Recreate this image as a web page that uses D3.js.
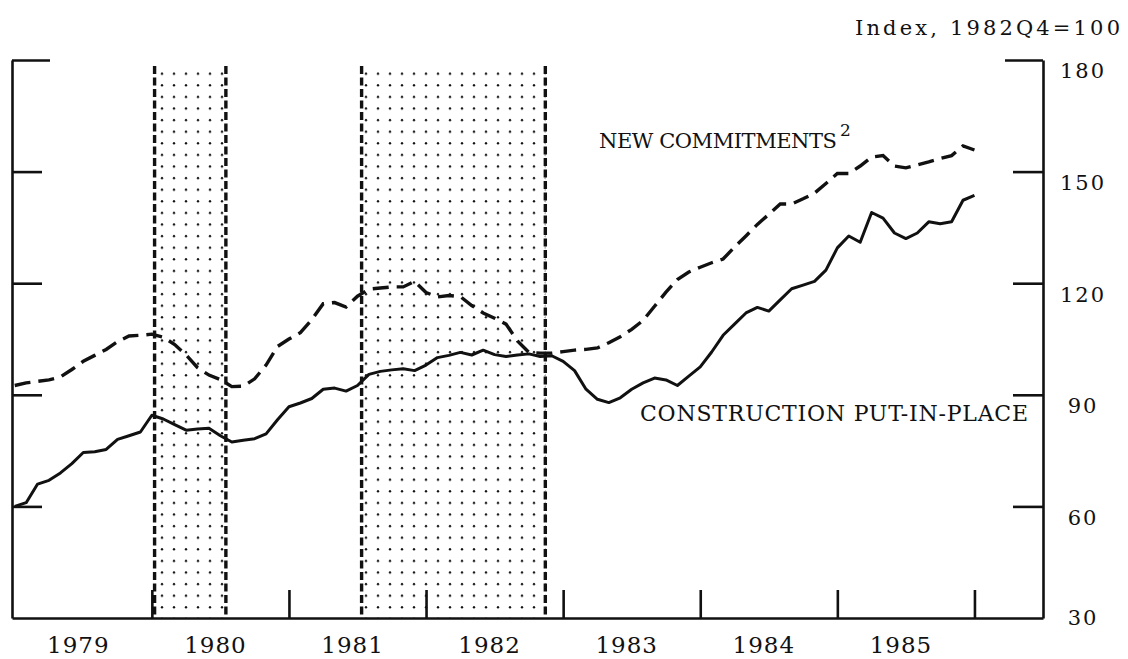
<!doctype html>
<html lang="en">
<head>
<meta charset="utf-8">
<title>Construction put-in-place and new commitments</title>
<script src="https://d3js.org/d3.v7.min.js"></script>
<style>
  body { margin: 0; background: #fff; }
  svg text { font-family: "DejaVu Serif", serif; fill: #111; }
  .axis path, .axis line { stroke: #111; stroke-width: 2.6; }
</style>
</head>
<body>
<div id="holder"></div>
<script>
// monthly readings, January 1979 through January 1986 (index, 1982Q4 = 100)
const firstYear = 1979;
const construction = [
  60, 61, 66, 67, 69, 71.5, 74.5, 74.7, 75.3, 78, 79, 80,
  84.5, 83.5, 82, 80.5, 80.8, 81, 79, 77.3, 77.8, 78.2, 79.5, 83.3,
  86.8, 87.8, 89, 91.5, 91.8, 91, 92.5, 95.5, 96.3, 96.7, 97, 96.5,
  98, 100, 100.6, 101.4, 100.7, 102, 100.8, 100.3, 100.7, 101, 100.3, 100.5,
  99, 96.5, 91.5, 88.8, 87.9, 89.2, 91.5, 93.2, 94.5, 94, 92.5, 95,
  97.5, 101.5, 106, 109, 112, 113.5, 112.5, 115.5, 118.5, 119.5, 120.5, 123.5,
  129.5, 132.7, 131, 139, 137.5, 133.5, 132, 133.5, 136.5, 136, 136.5, 142.3,
  143.6
];
const commitments = [
  92.5, 93.2, 93.6, 94, 94.8, 96.8, 99, 100.6, 102.2, 104.3, 105.8, 106,
  106.3, 105.5, 103.5, 100.7, 97.3, 95.3, 94.1, 92.2, 92.3, 94.3, 98, 103,
  105, 106.7, 110.2, 114.5, 114.8, 113.6, 116.5, 118.4, 118.7, 119, 119, 120.5,
  117.5, 116.3, 116.7, 116.4, 114, 112, 110.6, 109, 104.5, 101.4, 101.2, 101.2,
  101.6, 102, 102.2, 102.6, 104, 105.6, 107.6, 110, 113.8, 117.6, 121, 123,
  124.3, 125.5, 126.5, 129.7, 132.7, 135.8, 138.5, 141.3, 141.3, 142.7, 144.2, 146.8,
  149.5, 149.5, 151.5, 153.9, 154.3, 151.5, 151, 151.8, 152.6, 153.5, 154.3, 156.9,
  155.8
];
const recessions = [[1980.02, 1980.54], [1981.53, 1982.87]];
const yearTicks = [1980, 1981, 1982, 1983, 1984, 1985, 1986];
const yearLabels = [1979, 1980, 1981, 1982, 1983, 1984, 1985];
const yTicks = [30, 60, 90, 120, 150, 180];

const width = 1128, height = 659;
const svg = d3.select('#holder').append('svg')
  .attr('width', width)
  .attr('height', height);

const x = d3.scaleLinear().domain([1978.98, 1986.5]).range([12, 1043]);
const y = d3.scaleLinear().domain([30, 180]).range([618, 60]);

// dotted fill for the shaded periods
const defs = svg.append('defs');
const pat = defs.append('pattern')
  .attr('id', 'dots')
  .attr('patternUnits', 'userSpaceOnUse')
  .attr('width', 12)
  .attr('height', 11.6);
pat.append('circle')
  .attr('cx', 6).attr('cy', 4)
  .attr('r', 1.2)
  .attr('fill', '#111');

const shade = svg.append('g');
shade.selectAll('rect')
  .data(recessions)
  .enter().append('rect')
  .attr('x', d => x(d[0]))
  .attr('y', y(178.4))
  .attr('width', d => x(d[1]) - x(d[0]))
  .attr('height', y(30) - y(178.4))
  .attr('fill', 'url(#dots)');

shade.selectAll('line')
  .data(recessions.flat())
  .enter().append('line')
  .attr('x1', d => x(d)).attr('x2', d => x(d))
  .attr('y1', y(178.4)).attr('y2', y(30))
  .attr('stroke', '#111')
  .attr('stroke-width', 3.4)
  .attr('stroke-dasharray', '8,3.5');

// axes
const leftAxis = d3.axisRight(y)
  .tickValues(yTicks.slice(1))
  .tickSizeInner(30)
  .tickSizeOuter(0)
  .tickFormat('');
svg.append('g')
  .attr('class', 'axis')
  .attr('transform', 'translate(' + x.range()[0] + ',0)')
  .call(leftAxis);

const rightAxis = d3.axisRight(y)
  .tickValues(yTicks)
  .tickSizeInner(-30)
  .tickSizeOuter(0)
  .tickPadding(40);
const gr = svg.append('g')
  .attr('class', 'axis')
  .attr('transform', 'translate(' + x.range()[1] + ',0)')
  .call(rightAxis);
gr.selectAll('text')
  .attr('text-anchor', 'middle')
  .attr('dy', '0.85em')
  .style('font-size', '21px')
  .style('letter-spacing', '2px');
gr.selectAll('.tick').filter(d => d === 30).select('line').remove();
gr.selectAll('.tick').filter(d => d === 30).select('text').attr('dy', '0.3em');

// the top ticks reach a bit further in
svg.selectAll('.tick').filter(d => d === 180).select('line')
  .attr('x2', function() { return +d3.select(this).attr('x2') > 0 ? 38 : -38; });

const bottomAxis = d3.axisBottom(x)
  .tickValues(yearTicks)
  .tickSizeInner(-28)
  .tickSizeOuter(0)
  .tickFormat('');
svg.append('g')
  .attr('class', 'axis')
  .attr('transform', 'translate(0,' + y.range()[0] + ')')
  .call(bottomAxis);

const yearAxis = d3.axisBottom(x)
  .tickValues(yearLabels.map(d => d + 0.46))
  .tickSize(0)
  .tickFormat(d => Math.floor(d));
const gy = svg.append('g')
  .attr('transform', 'translate(0,' + y.range()[0] + ')')
  .call(yearAxis);
gy.select('.domain').remove();
gy.selectAll('text')
  .attr('y', 35)
  .attr('dy', 0)
  .style('font-size', '23px')
  .style('letter-spacing', '1px');

// lines
const line = d3.line()
  .x((d, i) => x(firstYear + i / 12))
  .y(d => y(d));

svg.append('path')
  .datum(construction)
  .attr('d', line)
  .attr('fill', 'none')
  .attr('stroke', '#111')
  .attr('stroke-width', 3)
  .attr('stroke-linejoin', 'round');

svg.append('path')
  .datum(commitments)
  .attr('d', line)
  .attr('fill', 'none')
  .attr('stroke', '#111')
  .attr('stroke-width', 3.4)
  .attr('stroke-dasharray', '16,8');

// labels
svg.append('text')
  .text('Index, 1982Q4=100')
  .attr('x', 855).attr('y', 35)
  .attr('textLength', 265)
  .attr('lengthAdjust', 'spacing')
  .style('font-size', '21px');

svg.append('text')
  .text('NEW COMMITMENTS')
  .attr('x', 599).attr('y', 148)
  .attr('textLength', 238)
  .attr('lengthAdjust', 'spacing')
  .style('font-size', '21px');

svg.append('text')
  .text('2')
  .attr('x', 840).attr('y', 136)
  .style('font-size', '17px');

svg.append('text')
  .text('CONSTRUCTION PUT-IN-PLACE')
  .attr('x', 640).attr('y', 421)
  .attr('textLength', 388)
  .attr('lengthAdjust', 'spacing')
  .style('font-size', '22px');
</script>
</body>
</html>
